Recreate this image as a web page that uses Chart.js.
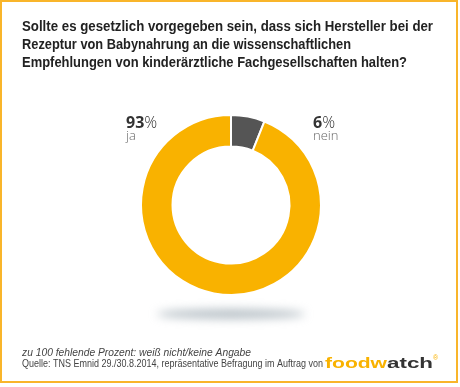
<!DOCTYPE html>
<html>
<head>
<meta charset="utf-8">
<script src="https://cdn.jsdelivr.net/npm/chart.js@4.4.0/dist/chart.umd.min.js"></script>
<style>
  html, body { margin: 0; padding: 0; background: #fff; }
  #wrap { position: relative; width: 460px; height: 387px; }
</style>
</head>
<body>
<div id="wrap"><canvas id="pollChart" width="460" height="387"></canvas></div>
<script>
// answers and shares (percent)
const categories = ['nein', 'ja'];
const values = [6, 93];
const colors = ['#555555', '#F9B200'];

const titleLines = [
    'Sollte es gesetzlich vorgegeben sein, dass sich Hersteller bei der',
    'Rezeptur von Babynahrung an die wissenschaftlichen',
    'Empfehlungen von kinderärztliche Fachgesellschaften halten?'
];
const noteText = 'zu 100 fehlende Prozent: weiß nicht/keine Angabe';
const sourceText = 'Quelle: TNS Emnid 29./30.8.2014, repräsentative Befragung im Auftrag von';

// draw text stretched/squeezed to a given width
function fitText(ctx, text, x, y, width) {
    const w = ctx.measureText(text).width;
    ctx.save();
    ctx.translate(x, y);
    ctx.scale(width / w, 1);
    ctx.fillText(text, 0, 0);
    ctx.restore();
}

const decorPlugin = {
    id: 'decor',
    beforeDraw(chart) {
        const ctx = chart.ctx;
        ctx.save();
        // frame
        ctx.strokeStyle = '#F9B52A';
        ctx.lineWidth = 2;
        ctx.strokeRect(1, 1, 456, 381);
        // soft shadow under the ring
        ctx.filter = 'blur(5px)';
        ctx.fillStyle = 'rgba(160,172,180,0.75)';
        ctx.beginPath();
        ctx.ellipse(231, 314, 74, 5, 0, 0, Math.PI * 2);
        ctx.fill();
        ctx.filter = 'none';
        ctx.restore();
    },
    afterDraw(chart) {
        const ctx = chart.ctx;
        ctx.save();
        ctx.textBaseline = 'alphabetic';
        // title
        ctx.fillStyle = '#222';
        ctx.font = 'bold 15px "Liberation Sans Narrow", "Liberation Sans", sans-serif';
        const widths = [411, 329, 385];
        titleLines.forEach((t, i) => fitText(ctx, t, 22, 31 + i * 18, widths[i]));

        // slice labels
        const labelPos = { ja: [126, 128], nein: [313, 128] };
        categories.forEach((c, i) => {
            const [x, y] = labelPos[c];
            ctx.fillStyle = '#333';
            ctx.font = 'bold 16px "Open Sans", sans-serif';
            const num = String(values[i]);
            ctx.fillText(num, x, y);
            const nw = ctx.measureText(num).width;
            ctx.font = '300 16px "Open Sans", sans-serif';
            ctx.fillText('%', x + nw, y);
            ctx.fillStyle = '#666';
            ctx.font = '300 13px "Open Sans", sans-serif';
            ctx.fillText(c, x, y + 12);
        });

        // footer
        ctx.fillStyle = '#444';
        ctx.font = 'italic 11px "Liberation Sans", sans-serif';
        fitText(ctx, noteText, 22, 356, 229);
        ctx.font = '11px "Liberation Sans", sans-serif';
        fitText(ctx, sourceText, 22, 367, 301);
        // logo
        ctx.font = 'bold 14px "Liberation Sans Narrow", sans-serif';
        ctx.fillStyle = '#F9B200';
        fitText(ctx, 'foodw', 325, 368, 62);
        ctx.fillStyle = '#333';
        fitText(ctx, 'atch', 387, 368, 46);
        ctx.fillStyle = '#F9B200';
        ctx.font = '7px sans-serif';
        ctx.fillText('®', 433, 360);
        ctx.restore();
    }
};

new Chart(document.getElementById('pollChart'), {
    type: 'doughnut',
    data: {
        labels: categories,
        datasets: [{
            data: values,
            backgroundColor: colors,
            borderColor: '#fff',
            borderWidth: 2,
            hoverOffset: 0
        }]
    },
    options: {
        responsive: false,
        animation: false,
        cutout: '65%',
        layout: { padding: { left: 140, right: 138, top: 114, bottom: 91 } },
        plugins: {
            legend: { display: false },
            tooltip: { enabled: false }
        }
    },
    plugins: [decorPlugin]
});
</script>
</body>
</html>
